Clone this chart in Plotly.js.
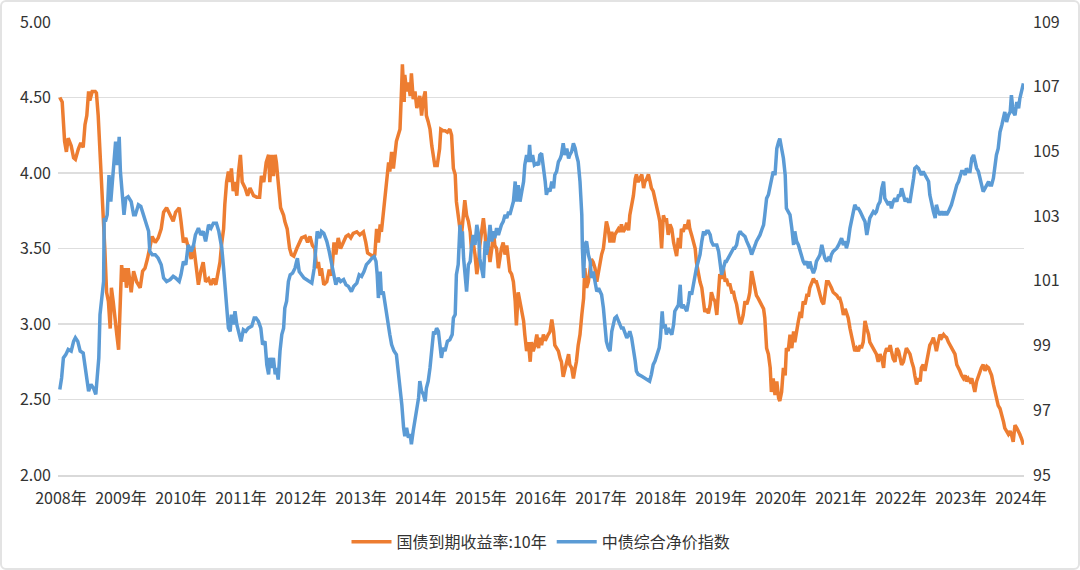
<!DOCTYPE html>
<html>
<head>
<meta charset="utf-8">
<script src="https://cdn.plot.ly/plotly-3.0.1.min.js"></script>
<style>
  html, body { margin: 0; padding: 0; background: #fff; }
  #wrap { position: relative; width: 1080px; height: 570px; }
  #chart { width: 1080px; height: 570px; }
  #frame { position: absolute; left: 0; top: 0; width: 1080px; height: 570px; box-sizing: border-box;
           border: 2px solid #e3e3e3; border-radius: 6px; pointer-events: none; }
</style>
</head>
<body>
<div id="wrap"><div id="chart"></div><div id="frame"></div></div>
<script>
// ---- data (decimal year, value) ----
const yearTicks = [2008,2009,2010,2011,2012,2013,2014,2015,2016,2017,2018,2019,2020,2021,2022,2023,2024];
const yearLabels = yearTicks.map(y => y + '年');

const yieldName = '国债到期收益率:10年';
const indexName = '中债综合净价指数';

const yieldPoints = [
[2007.98,4.50],[2008.02,4.47],[2008.06,4.21],[2008.09,4.14],[2008.12,4.23],[2008.17,4.18],[2008.21,4.10],[2008.24,4.09],[2008.29,4.16],[2008.33,4.20],[2008.37,4.17],[2008.40,4.32],[2008.43,4.38],[2008.46,4.54],[2008.48,4.48],[2008.52,4.54],[2008.57,4.54],[2008.59,4.53],[2008.62,4.38],[2008.65,4.16],[2008.68,3.94],[2008.71,3.72],[2008.73,3.50],[2008.76,3.21],[2008.79,3.15],[2008.82,2.97],[2008.84,3.24],[2008.87,3.15],[2008.90,3.06],[2008.93,2.93],[2008.96,2.83],[2008.98,3.06],
[2009.01,3.39],[2009.04,3.28],[2009.07,3.37],[2009.09,3.24],[2009.12,3.37],[2009.17,3.21],[2009.21,3.35],[2009.26,3.28],[2009.32,3.24],[2009.36,3.35],[2009.40,3.37],[2009.44,3.43],[2009.48,3.50],[2009.52,3.58],[2009.57,3.54],[2009.62,3.57],[2009.67,3.63],[2009.71,3.74],[2009.76,3.77],[2009.82,3.72],[2009.87,3.68],[2009.91,3.74],[2009.97,3.77],
[2010.00,3.68],[2010.04,3.54],[2010.08,3.57],[2010.12,3.50],[2010.17,3.43],[2010.21,3.52],[2010.24,3.41],[2010.29,3.26],[2010.33,3.35],[2010.37,3.41],[2010.41,3.28],[2010.46,3.30],[2010.50,3.26],[2010.54,3.30],[2010.58,3.26],[2010.62,3.35],[2010.65,3.41],[2010.68,3.54],[2010.71,3.63],[2010.73,3.79],[2010.76,3.94],[2010.79,4.01],[2010.82,3.94],[2010.84,4.03],[2010.87,3.88],[2010.90,3.94],[2010.93,3.85],[2010.96,4.01],[2010.99,4.12],
[2011.02,3.94],[2011.07,3.90],[2011.11,3.85],[2011.15,3.90],[2011.21,3.85],[2011.26,3.84],[2011.31,3.84],[2011.34,3.98],[2011.38,3.94],[2011.42,4.07],[2011.46,4.12],[2011.48,3.94],[2011.51,4.12],[2011.54,3.98],[2011.57,4.12],[2011.59,4.07],[2011.62,3.94],[2011.66,3.77],[2011.71,3.72],[2011.73,3.68],[2011.77,3.63],[2011.81,3.50],[2011.84,3.46],[2011.88,3.45],[2011.93,3.50],[2011.97,3.54],
[2012.01,3.57],[2012.07,3.58],[2012.11,3.54],[2012.15,3.58],[2012.19,3.52],[2012.23,3.50],[2012.26,3.37],[2012.29,3.41],[2012.32,3.32],[2012.34,3.37],[2012.38,3.26],[2012.43,3.28],[2012.47,3.36],[2012.51,3.32],[2012.55,3.54],[2012.58,3.46],[2012.62,3.57],[2012.66,3.50],[2012.71,3.54],[2012.75,3.58],[2012.79,3.59],[2012.83,3.57],[2012.87,3.60],[2012.93,3.61],[2012.98,3.59],
[2013.04,3.61],[2013.08,3.54],[2013.11,3.47],[2013.15,3.46],[2013.19,3.45],[2013.23,3.46],[2013.26,3.63],[2013.29,3.54],[2013.32,3.66],[2013.34,3.61],[2013.37,3.72],[2013.40,3.81],[2013.43,3.94],[2013.46,4.07],[2013.48,4.01],[2013.51,4.14],[2013.54,4.03],[2013.57,4.12],[2013.59,4.21],[2013.62,4.25],[2013.65,4.29],[2013.68,4.60],[2013.69,4.72],[2013.72,4.47],[2013.73,4.65],[2013.76,4.54],[2013.79,4.60],[2013.82,4.51],[2013.84,4.66],[2013.87,4.49],[2013.90,4.54],[2013.93,4.43],[2013.96,4.47],[2013.98,4.51],
[2014.01,4.38],[2014.04,4.49],[2014.07,4.54],[2014.09,4.38],[2014.12,4.34],[2014.15,4.29],[2014.18,4.18],[2014.21,4.07],[2014.23,4.05],[2014.27,4.05],[2014.31,4.16],[2014.33,4.29],[2014.37,4.28],[2014.40,4.28],[2014.44,4.27],[2014.48,4.29],[2014.51,4.25],[2014.54,4.03],[2014.57,3.99],[2014.59,3.81],[2014.62,3.72],[2014.65,3.63],[2014.68,3.61],[2014.71,3.72],[2014.73,3.82],[2014.76,3.72],[2014.79,3.68],[2014.82,3.61],[2014.84,3.50],[2014.87,3.54],[2014.90,3.46],[2014.93,3.33],[2014.96,3.41],[2014.98,3.52],
[2015.01,3.63],[2015.04,3.70],[2015.07,3.59],[2015.09,3.46],[2015.12,3.52],[2015.15,3.41],[2015.18,3.50],[2015.21,3.61],[2015.23,3.52],[2015.26,3.50],[2015.29,3.37],[2015.32,3.46],[2015.34,3.50],[2015.37,3.54],[2015.40,3.46],[2015.43,3.52],[2015.46,3.43],[2015.48,3.35],[2015.51,3.33],[2015.54,3.28],[2015.57,3.15],[2015.59,2.99],[2015.62,3.21],[2015.65,3.15],[2015.68,3.10],[2015.71,3.02],[2015.73,2.93],[2015.76,2.82],[2015.79,2.88],[2015.82,2.75],[2015.84,2.88],[2015.87,2.82],[2015.90,2.86],[2015.93,2.93],[2015.96,2.84],[2015.98,2.91],
[2016.01,2.86],[2016.04,2.93],[2016.07,2.89],[2016.09,2.91],[2016.12,2.93],[2016.15,2.95],[2016.18,3.03],[2016.21,2.95],[2016.23,2.86],[2016.26,2.84],[2016.29,2.82],[2016.32,2.77],[2016.34,2.75],[2016.37,2.65],[2016.40,2.71],[2016.43,2.75],[2016.46,2.80],[2016.48,2.73],[2016.51,2.71],[2016.54,2.64],[2016.57,2.71],[2016.59,2.75],[2016.62,2.86],[2016.65,2.93],[2016.68,3.06],[2016.71,3.17],[2016.73,3.37],[2016.76,3.24],[2016.79,3.28],[2016.82,3.37],[2016.84,3.43],[2016.87,3.41],[2016.90,3.37],[2016.93,3.28],[2016.96,3.35],[2016.98,3.37],
[2017.01,3.46],[2017.04,3.50],[2017.07,3.63],[2017.09,3.68],[2017.12,3.63],[2017.15,3.54],[2017.18,3.61],[2017.21,3.54],[2017.23,3.59],[2017.26,3.61],[2017.29,3.63],[2017.32,3.61],[2017.34,3.66],[2017.37,3.61],[2017.40,3.63],[2017.43,3.67],[2017.46,3.62],[2017.48,3.72],[2017.51,3.79],[2017.54,3.85],[2017.57,3.96],[2017.59,3.99],[2017.62,3.94],[2017.68,3.99],[2017.71,3.90],[2017.73,3.94],[2017.76,3.96],[2017.79,3.99],[2017.82,3.94],[2017.84,3.90],[2017.87,3.88],[2017.90,3.83],[2017.93,3.79],[2017.96,3.72],[2017.98,3.68],
[2018.01,3.50],[2018.04,3.72],[2018.07,3.68],[2018.09,3.70],[2018.12,3.59],[2018.15,3.66],[2018.18,3.63],[2018.21,3.54],[2018.23,3.50],[2018.26,3.45],[2018.29,3.57],[2018.32,3.50],[2018.34,3.63],[2018.37,3.61],[2018.40,3.66],[2018.43,3.63],[2018.46,3.69],[2018.48,3.63],[2018.51,3.59],[2018.54,3.54],[2018.57,3.50],[2018.59,3.41],[2018.62,3.33],[2018.65,3.28],[2018.68,3.24],[2018.71,3.15],[2018.73,3.08],[2018.76,3.10],[2018.79,3.07],[2018.82,3.13],[2018.84,3.21],[2018.87,3.17],[2018.90,3.15],[2018.93,3.06],[2018.96,3.28],[2018.98,3.33],
[2019.01,3.30],[2019.04,3.37],[2019.07,3.28],[2019.09,3.30],[2019.12,3.26],[2019.15,3.26],[2019.18,3.21],[2019.21,3.21],[2019.23,3.17],[2019.26,3.13],[2019.29,3.06],[2019.32,3.00],[2019.34,3.01],[2019.37,3.06],[2019.40,3.15],[2019.43,3.13],[2019.46,3.17],[2019.48,3.21],[2019.51,3.35],[2019.54,3.28],[2019.57,3.21],[2019.59,3.19],[2019.62,3.17],[2019.65,3.15],[2019.68,3.13],[2019.71,3.10],[2019.73,3.04],[2019.76,2.84],[2019.79,2.80],[2019.82,2.71],[2019.84,2.55],[2019.87,2.64],[2019.90,2.53],[2019.93,2.62],[2019.96,2.51],[2019.98,2.49],
[2020.01,2.55],[2020.04,2.71],[2020.07,2.66],[2020.09,2.84],[2020.12,2.82],[2020.15,2.93],[2020.18,2.84],[2020.21,2.95],[2020.23,2.88],[2020.26,2.97],[2020.29,3.02],[2020.32,3.08],[2020.34,3.04],[2020.37,3.15],[2020.40,3.13],[2020.43,3.19],[2020.46,3.19],[2020.48,3.24],[2020.51,3.28],[2020.54,3.30],[2020.57,3.28],[2020.59,3.28],[2020.62,3.24],[2020.65,3.19],[2020.68,3.15],[2020.71,3.13],[2020.73,3.19],[2020.76,3.28],[2020.79,3.28],[2020.82,3.26],[2020.84,3.24],[2020.87,3.21],[2020.93,3.19],[2020.96,3.17],[2020.98,3.17],
[2021.01,3.13],[2021.04,3.06],[2021.07,3.10],[2021.09,3.08],[2021.12,3.04],[2021.15,2.97],[2021.18,2.91],[2021.21,2.86],[2021.23,2.82],[2021.26,2.84],[2021.29,2.82],[2021.32,2.86],[2021.34,2.84],[2021.37,2.88],[2021.40,3.02],[2021.43,2.97],[2021.46,2.93],[2021.48,2.88],[2021.51,2.86],[2021.54,2.84],[2021.57,2.82],[2021.59,2.80],[2021.62,2.75],[2021.65,2.80],[2021.68,2.77],[2021.71,2.71],[2021.73,2.80],[2021.76,2.84],[2021.79,2.82],[2021.82,2.86],[2021.84,2.82],[2021.87,2.77],[2021.90,2.75],[2021.93,2.84],[2021.96,2.82],[2021.98,2.77],
[2022.01,2.73],[2022.04,2.75],[2022.07,2.82],[2022.09,2.84],[2022.12,2.82],[2022.15,2.80],[2022.18,2.75],[2022.21,2.71],[2022.23,2.66],[2022.26,2.60],[2022.29,2.64],[2022.32,2.62],[2022.34,2.71],[2022.37,2.73],[2022.40,2.69],[2022.43,2.75],[2022.46,2.80],[2022.48,2.86],[2022.51,2.88],[2022.54,2.91],[2022.57,2.86],[2022.59,2.82],[2022.62,2.88],[2022.65,2.93],[2022.68,2.91],[2022.71,2.93],[2022.73,2.92],[2022.76,2.91],[2022.79,2.88],[2022.82,2.86],[2022.84,2.84],[2022.87,2.82],[2022.90,2.80],[2022.93,2.73],[2022.96,2.71],[2022.98,2.69],
[2023.01,2.66],[2023.04,2.64],[2023.07,2.66],[2023.09,2.62],[2023.12,2.64],[2023.15,2.62],[2023.18,2.64],[2023.21,2.57],[2023.23,2.55],[2023.26,2.62],[2023.29,2.66],[2023.32,2.69],[2023.34,2.71],[2023.37,2.73],[2023.40,2.69],[2023.43,2.72],[2023.46,2.71],[2023.48,2.69],[2023.51,2.66],[2023.54,2.60],[2023.57,2.55],[2023.59,2.51],[2023.62,2.46],[2023.65,2.44],[2023.68,2.40],[2023.71,2.35],[2023.73,2.31],[2023.76,2.29],[2023.79,2.27],[2023.82,2.29],[2023.84,2.27],[2023.87,2.22],[2023.90,2.33],[2023.93,2.31],[2023.96,2.29],[2023.98,2.27],
[2024.01,2.24],[2024.04,2.20]
];

const indexPoints = [
[2007.98,97.64],[2008.01,98.00],[2008.04,98.62],[2008.08,98.72],[2008.12,98.88],[2008.17,98.83],[2008.21,99.13],[2008.24,99.24],[2008.28,99.13],[2008.32,98.83],[2008.37,98.77],[2008.41,98.31],[2008.46,97.59],[2008.50,97.80],[2008.54,97.69],[2008.58,97.49],[2008.61,98.11],[2008.63,98.62],[2008.65,99.96],[2008.68,100.47],[2008.71,100.98],[2008.72,102.94],[2008.74,102.83],[2008.77,103.04],[2008.80,104.27],[2008.83,103.45],[2008.86,104.17],[2008.88,104.48],[2008.91,105.30],[2008.94,104.58],[2008.97,105.45],[2008.99,104.38],
[2009.02,103.66],[2009.05,103.04],[2009.08,103.55],[2009.12,103.60],[2009.17,103.45],[2009.21,103.04],[2009.24,103.04],[2009.29,103.35],[2009.33,103.30],[2009.37,103.04],[2009.41,102.83],[2009.46,102.53],[2009.48,101.91],[2009.52,101.81],[2009.57,101.81],[2009.62,101.70],[2009.67,101.50],[2009.71,101.09],[2009.76,100.98],[2009.82,101.04],[2009.87,101.14],[2009.91,101.09],[2009.97,100.98],
[2010.00,101.19],[2010.04,101.60],[2010.08,101.50],[2010.12,102.11],[2010.17,101.91],[2010.21,102.11],[2010.24,102.42],[2010.29,102.63],[2010.33,102.42],[2010.37,102.53],[2010.41,102.22],[2010.46,102.73],[2010.50,102.63],[2010.54,102.78],[2010.59,102.78],[2010.63,102.53],[2010.68,102.01],[2010.71,101.39],[2010.73,100.98],[2010.76,100.26],[2010.79,99.54],[2010.82,99.44],[2010.84,99.96],[2010.87,99.65],[2010.90,100.06],[2010.93,99.65],[2010.96,99.44],
[2011.00,99.13],[2011.04,99.49],[2011.08,99.44],[2011.12,99.54],[2011.18,99.60],[2011.22,99.85],[2011.25,99.85],[2011.29,99.75],[2011.33,99.54],[2011.36,99.03],[2011.40,99.13],[2011.43,98.41],[2011.46,98.11],[2011.48,98.62],[2011.51,98.31],[2011.54,98.62],[2011.57,98.11],[2011.59,98.31],[2011.62,97.95],[2011.65,98.83],[2011.68,99.34],[2011.71,99.54],[2011.73,100.16],[2011.76,100.37],[2011.79,100.98],[2011.82,101.19],[2011.86,101.24],[2011.90,101.39],[2011.94,101.70],[2011.97,101.29],
[2012.01,101.19],[2012.05,101.09],[2012.09,101.04],[2012.14,100.98],[2012.18,100.93],[2012.22,101.39],[2012.25,102.11],[2012.27,102.53],[2012.31,102.32],[2012.34,102.53],[2012.38,102.47],[2012.43,102.22],[2012.47,101.91],[2012.51,101.50],[2012.55,101.19],[2012.58,100.88],[2012.62,101.09],[2012.66,100.98],[2012.71,101.04],[2012.75,100.88],[2012.79,100.83],[2012.84,100.67],[2012.88,100.83],[2012.93,100.93],[2012.97,101.19],
[2013.01,101.14],[2013.05,101.29],[2013.09,101.50],[2013.14,101.60],[2013.18,101.70],[2013.22,101.75],[2013.25,101.60],[2013.27,101.19],[2013.29,100.47],[2013.32,101.29],[2013.34,100.57],[2013.37,100.67],[2013.40,100.26],[2013.43,99.96],[2013.46,99.44],[2013.48,99.34],[2013.51,99.03],[2013.55,98.83],[2013.59,98.72],[2013.62,98.21],[2013.65,97.80],[2013.68,97.18],[2013.71,96.46],[2013.73,96.20],[2013.76,96.46],[2013.79,96.15],[2013.82,96.26],[2013.84,95.95],[2013.87,96.36],[2013.90,96.77],[2013.93,96.98],[2013.96,97.39],[2013.98,97.90],
[2014.01,97.59],[2014.04,97.49],[2014.07,97.28],[2014.09,97.69],[2014.12,97.90],[2014.15,98.31],[2014.18,98.83],[2014.21,99.44],[2014.23,99.34],[2014.26,99.54],[2014.29,99.44],[2014.32,99.03],[2014.34,98.62],[2014.37,98.93],[2014.40,98.83],[2014.44,99.13],[2014.48,99.18],[2014.52,99.34],[2014.54,99.85],[2014.57,99.96],[2014.59,101.19],[2014.62,101.50],[2014.65,102.73],[2014.67,102.01],[2014.69,102.53],[2014.71,101.70],[2014.73,101.19],[2014.76,100.67],[2014.79,101.50],[2014.82,101.60],[2014.84,102.01],[2014.87,102.42],[2014.90,102.11],[2014.93,102.73],[2014.96,102.42],[2014.98,101.70],
[2015.01,101.39],[2015.04,101.09],[2015.07,102.22],[2015.09,101.81],[2015.12,102.11],[2015.15,102.73],[2015.18,102.22],[2015.21,102.53],[2015.23,102.32],[2015.26,102.63],[2015.29,102.42],[2015.32,102.63],[2015.34,102.73],[2015.37,102.83],[2015.40,103.04],[2015.43,102.94],[2015.46,103.14],[2015.48,103.04],[2015.51,103.24],[2015.54,103.45],[2015.57,104.07],[2015.59,103.45],[2015.62,103.96],[2015.65,103.45],[2015.68,103.76],[2015.71,104.07],[2015.73,104.58],[2015.76,104.89],[2015.79,104.68],[2015.81,105.20],[2015.83,104.68],[2015.86,104.89],[2015.89,104.58],[2015.93,104.63],[2015.96,104.58],[2015.98,104.89],
[2016.01,104.94],[2016.04,104.58],[2016.07,104.07],[2016.09,103.66],[2016.12,103.86],[2016.15,103.76],[2016.18,104.07],[2016.21,103.86],[2016.23,104.27],[2016.26,104.38],[2016.29,104.68],[2016.32,104.78],[2016.34,104.89],[2016.37,105.25],[2016.40,104.89],[2016.43,105.09],[2016.46,104.78],[2016.48,104.89],[2016.51,104.99],[2016.54,105.25],[2016.57,105.09],[2016.59,104.89],[2016.62,104.68],[2016.65,104.07],[2016.68,103.04],[2016.69,102.01],[2016.71,101.09],[2016.73,102.11],[2016.76,102.22],[2016.79,101.81],[2016.82,101.60],[2016.84,101.09],[2016.87,101.29],[2016.90,100.98],[2016.93,100.67],[2016.96,100.77],[2016.98,100.67],
[2017.01,100.57],[2017.04,100.16],[2017.07,99.54],[2017.09,99.13],[2017.12,98.93],[2017.15,98.83],[2017.18,99.44],[2017.21,99.75],[2017.23,99.85],[2017.26,99.90],[2017.29,99.75],[2017.32,99.65],[2017.34,99.54],[2017.37,99.54],[2017.40,99.34],[2017.43,99.24],[2017.46,99.34],[2017.48,99.44],[2017.51,99.24],[2017.54,98.93],[2017.57,98.52],[2017.59,98.21],[2017.62,98.11],[2017.68,98.05],[2017.72,98.00],[2017.76,97.95],[2017.81,97.90],[2017.84,98.11],[2017.87,98.41],[2017.90,98.52],[2017.94,98.72],[2017.97,98.93],[2017.99,99.24],
[2018.02,100.06],[2018.04,99.54],[2018.07,99.65],[2018.09,99.34],[2018.12,99.54],[2018.15,99.44],[2018.18,99.34],[2018.21,99.65],[2018.23,100.06],[2018.26,100.16],[2018.29,100.26],[2018.32,100.88],[2018.34,100.16],[2018.37,100.26],[2018.40,100.16],[2018.43,100.06],[2018.46,100.37],[2018.48,100.67],[2018.51,100.57],[2018.54,100.98],[2018.57,101.19],[2018.59,101.39],[2018.62,101.60],[2018.65,101.81],[2018.68,102.22],[2018.71,102.53],[2018.73,102.42],[2018.76,102.53],[2018.79,102.53],[2018.82,102.42],[2018.84,102.22],[2018.87,102.11],[2018.90,102.11],[2018.93,102.11],[2018.96,101.91],[2018.98,101.60],
[2019.01,101.19],[2019.04,101.39],[2019.07,101.60],[2019.09,101.60],[2019.12,101.70],[2019.15,101.81],[2019.18,101.91],[2019.21,102.01],[2019.23,102.01],[2019.26,102.11],[2019.29,102.42],[2019.32,102.53],[2019.34,102.47],[2019.37,102.42],[2019.40,102.37],[2019.43,102.22],[2019.46,102.11],[2019.48,102.01],[2019.51,101.81],[2019.54,102.01],[2019.57,102.11],[2019.59,102.22],[2019.62,102.32],[2019.65,102.42],[2019.68,102.58],[2019.71,102.73],[2019.73,103.04],[2019.76,103.55],[2019.79,103.66],[2019.82,103.96],[2019.84,104.07],[2019.87,104.38],[2019.90,104.27],[2019.93,105.09],[2019.96,105.30],[2019.98,105.40],
[2020.01,105.09],[2020.04,104.79],[2020.07,104.27],[2020.09,103.24],[2020.12,103.14],[2020.15,103.04],[2020.18,102.63],[2020.21,102.11],[2020.23,102.53],[2020.26,102.22],[2020.29,102.11],[2020.32,101.91],[2020.34,101.70],[2020.37,101.60],[2020.40,101.50],[2020.43,101.60],[2020.46,101.39],[2020.48,101.60],[2020.51,101.39],[2020.54,101.24],[2020.57,101.39],[2020.59,101.60],[2020.62,101.70],[2020.65,101.81],[2020.68,102.11],[2020.71,101.81],[2020.73,101.70],[2020.76,101.60],[2020.79,101.70],[2020.82,101.65],[2020.84,101.81],[2020.87,101.91],[2020.93,102.01],[2020.96,102.11],[2020.98,102.22],
[2021.01,102.32],[2021.04,102.11],[2021.07,102.22],[2021.09,102.01],[2021.12,102.22],[2021.15,102.63],[2021.18,102.94],[2021.21,103.24],[2021.23,103.35],[2021.26,103.24],[2021.29,103.24],[2021.32,103.14],[2021.34,103.04],[2021.37,102.94],[2021.40,102.83],[2021.43,102.42],[2021.46,102.73],[2021.48,102.94],[2021.51,103.04],[2021.54,103.14],[2021.57,103.09],[2021.59,103.14],[2021.62,103.35],[2021.65,103.45],[2021.68,103.86],[2021.71,104.07],[2021.73,103.55],[2021.76,103.45],[2021.79,103.35],[2021.82,103.45],[2021.84,103.24],[2021.87,103.45],[2021.90,103.55],[2021.93,103.45],[2021.96,103.66],[2021.98,103.60],
[2022.01,103.86],[2022.04,103.66],[2022.07,103.45],[2022.09,103.55],[2022.12,103.45],[2022.15,103.45],[2022.18,103.76],[2022.21,104.17],[2022.23,104.48],[2022.26,104.53],[2022.29,104.48],[2022.32,104.38],[2022.34,104.27],[2022.37,104.38],[2022.40,104.27],[2022.43,104.17],[2022.46,104.07],[2022.48,103.66],[2022.51,103.35],[2022.54,103.14],[2022.57,102.94],[2022.59,103.35],[2022.62,103.14],[2022.65,103.04],[2022.68,103.14],[2022.71,103.04],[2022.73,103.14],[2022.76,103.04],[2022.79,103.14],[2022.82,103.24],[2022.84,103.35],[2022.87,103.55],[2022.90,103.76],[2022.93,103.96],[2022.96,104.07],[2022.98,104.17],
[2023.01,104.38],[2023.04,104.38],[2023.07,104.27],[2023.09,104.48],[2023.12,104.38],[2023.15,104.38],[2023.18,104.79],[2023.21,104.89],[2023.23,104.68],[2023.26,104.48],[2023.29,104.38],[2023.32,104.17],[2023.34,103.96],[2023.37,103.76],[2023.40,103.86],[2023.43,103.96],[2023.46,104.07],[2023.48,103.96],[2023.51,103.96],[2023.54,104.17],[2023.57,104.58],[2023.59,104.89],[2023.62,105.09],[2023.65,105.60],[2023.68,105.81],[2023.71,106.02],[2023.73,106.22],[2023.76,105.91],[2023.79,106.12],[2023.82,106.22],[2023.84,106.74],[2023.87,106.22],[2023.90,106.12],[2023.93,106.53],[2023.96,106.33],[2023.98,106.63],
[2024.01,106.84],[2024.04,107.10]
];

const yieldX = yieldPoints.map(p => p[0]);
const yieldY = yieldPoints.map(p => p[1]);
const indexX = indexPoints.map(p => p[0]);
const indexY = indexPoints.map(p => p[1]);

const FONT = '"Noto Sans CJK SC", "Noto Sans", sans-serif';

const traces = [
  { x: yieldX, y: yieldY, name: yieldName, type: 'scatter', mode: 'lines',
    line: { color: '#ED7D31', width: 3.5 }, yaxis: 'y' },
  { x: indexX, y: indexY, name: indexName, type: 'scatter', mode: 'lines',
    line: { color: '#5B9BD5', width: 3.5 }, yaxis: 'y2' }
];

const layout = {
  width: 1080, height: 570,
  margin: { l: 58, r: 56, t: 22, b: 94 },
  paper_bgcolor: '#ffffff', plot_bgcolor: '#ffffff',
  font: { family: FONT, size: 16, color: '#333333' },
  showlegend: true,
  legend: { orientation: 'h', x: 0.5, xanchor: 'center', y: -0.145, yanchor: 'middle',
            font: { family: FONT, size: 16, color: '#333333' }, itemwidth: 40, tracegroupgap: 0 },
  xaxis: {
    type: 'linear', range: [2007.95, 2024.05],
    tickmode: 'array', tickvals: yearTicks, ticktext: yearLabels,
    showgrid: false, zeroline: false, ticks: '', ticklen: 0, ticklabelstandoff: 8,
    showline: true, linecolor: '#d9d9d9', linewidth: 1.5,
    tickfont: { family: FONT, size: 16, color: '#333333' }
  },
  yaxis: {
    range: [2, 5], dtick: 0.5, tick0: 2, tickformat: '.2f',
    showgrid: true, gridcolor: '#dedede', gridwidth: 1.5, zeroline: false,
    ticks: '', ticklabelstandoff: 6,
    tickfont: { family: FONT, size: 16, color: '#333333' }
  },
  yaxis2: {
    range: [95, 109], dtick: 2, tick0: 95, overlaying: 'y', side: 'right',
    showgrid: false, zeroline: false, ticks: '', ticklabelstandoff: 8,
    tickfont: { family: FONT, size: 16, color: '#333333' }
  }
};

Plotly.newPlot('chart', traces, layout, { staticPlot: true, displayModeBar: false });
</script>
</body>
</html>
